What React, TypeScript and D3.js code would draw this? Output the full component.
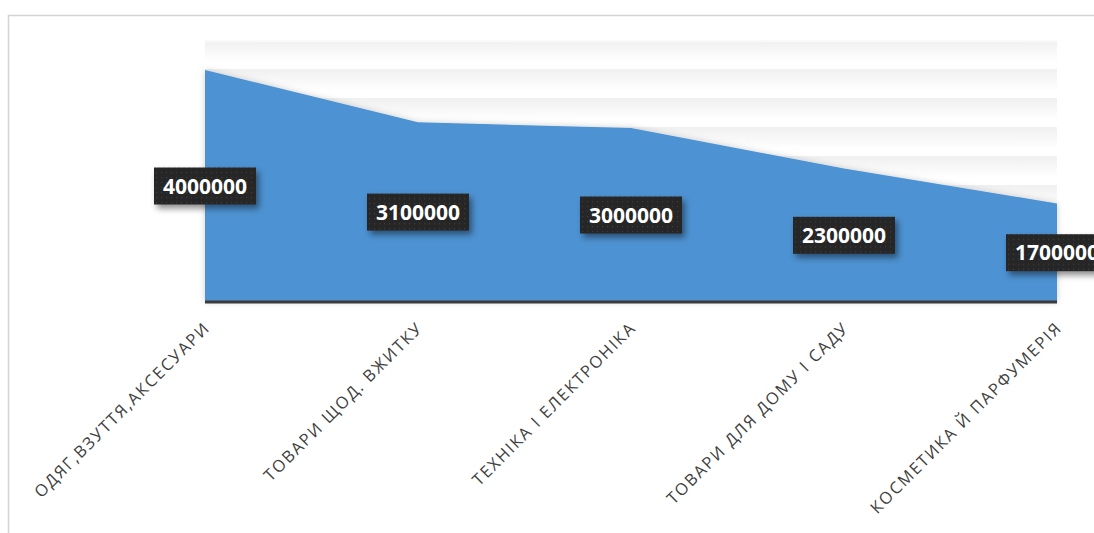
import React from "react";
import * as d3 from "d3";

const categories = [
  "ОДЯГ,ВЗУТТЯ,АКСЕСУАРИ",
  "ТОВАРИ ЩОД. ВЖИТКУ",
  "ТЕХНІКА І ЕЛЕКТРОНІКА",
  "ТОВАРИ ДЛЯ ДОМУ І САДУ",
  "КОСМЕТИКА Й ПАРФУМЕРІЯ",
];
const values = [4000000, 3100000, 3000000, 2300000, 1700000];
const gridTicks = [500000, 1000000, 1500000, 2000000, 2500000, 3000000, 3500000, 4000000, 4500000];

const W = 1094;
const H = 533;

export default function App() {
  const x = d3.scalePoint<string>().domain(categories).range([205, 1057]);
  const y = d3.scaleLinear().domain([0, 4500000]).range([302, 41]);
  const data = categories.map((c, i) => ({ c, v: values[i] }));
  const area = d3
    .area<{ c: string; v: number }>()
    .x((d) => x(d.c) as number)
    .y0(y(0))
    .y1((d) => y(d.v));

  const [x0, x1] = x.range();

  return (
    <svg
      width={W}
      height={H}
      style={{ position: "absolute", left: 0, top: 0, background: "#fff" }}
      fontFamily="'Open Sans', Lato, sans-serif"
    >
      <defs>
        <linearGradient id="gshade" x1="0" y1="0" x2="0" y2="1">
          <stop offset="0" stopColor="#000" stopOpacity={0.055} />
          <stop offset="1" stopColor="#000" stopOpacity={0} />
        </linearGradient>
        <pattern id="dots" width="5" height="5" patternUnits="userSpaceOnUse">
          <rect width="5" height="5" fill="#262626" />
          <rect x="1" y="1" width="1.2" height="1.2" fill="#3c3c3c" />
        </pattern>
        <filter id="lblShadow" x="-20%" y="-30%" width="150%" height="180%">
          <feDropShadow dx="3" dy="4" stdDeviation="3" floodColor="#000" floodOpacity="0.45" />
        </filter>
        <filter id="areaShadow" x="-5%" y="-20%" width="110%" height="140%">
          <feDropShadow dx="0" dy="0" stdDeviation="3" floodColor="#000" floodOpacity="0.2" />
        </filter>
      </defs>

      <rect x={8.5} y={15.5} width={1200} height={700} fill="#fff" stroke="#d4d4d4" strokeWidth={1.5} />

      {gridTicks.map((t) => (
        <rect key={"s" + t} x={x0} y={y(t) + 1} width={x1 - x0} height={20} fill="url(#gshade)" />
      ))}
      {gridTicks.map((t) => (
        <line
          key={"g" + t}
          x1={x0}
          x2={x1}
          y1={y(t)}
          y2={y(t)}
          stroke={t === 4500000 ? "#f4f4f4" : "#e3e3e3"}
          strokeWidth={1.2}
        />
      ))}

      <path d={area(data) as string} fill="#4e92d2" filter="url(#areaShadow)" />

      <line x1={x0} x2={x1} y1={y(0)} y2={y(0)} stroke="#3a3a3a" strokeWidth={3} />

      {data.map((d) => {
        const cx = x(d.c) as number;
        const cy = (y(d.v) + y(0)) / 2;
        return (
          <g key={"l" + d.c} transform={`translate(${cx},${cy})`}>
            <rect x={-51} y={-18.5} width={102} height={37} fill="url(#dots)" filter="url(#lblShadow)" />
            <text
              textAnchor="middle"
              dy="0.36em"
              fill="#fff"
              fontWeight="bold"
              fontSize={21}
            >
              {d3.format("d")(d.v)}
            </text>
          </g>
        );
      })}

      {categories.map((c) => {
        const cx = x(c) as number;
        return (
          <text
            key={"c" + c}
            transform={`translate(${cx + 6},${329}) rotate(-45)`}
            textAnchor="end"
            fontSize={16.5}
            letterSpacing={1.7}
            fill="#404040"
          >
            {c}
          </text>
        );
      })}
    </svg>
  );
}
